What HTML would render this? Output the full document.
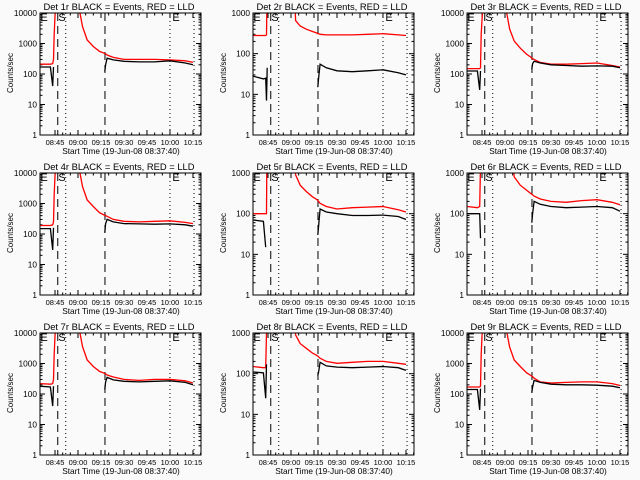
<!DOCTYPE html>
<html><head><meta charset="utf-8"><style>
html,body{margin:0;padding:0;background:#fafafa;}
svg{display:block;font-family:"Liberation Sans",sans-serif;}
</style></head><body>
<svg id="chart" width="640" height="480" viewBox="0 0 640 480"></svg>
<script>
// time in minutes relative to 08:45
const times = [-9.8,-3,-1.5,-1,-0.5,0,1,2,14,16,18,21,25,29,32,32.5,33,34,38,45,55,65,75,85,90];
const tickLabels = ["08:45","09:00","09:15","09:30","09:45","10:00","10:15"];
const tickTimes = [0,15,30,45,60,75,90];
const dashedTimes = [1.8,32.6];
const dottedTimes = [7,75,90.7];
const panelNames = ["Det 1r","Det 2r","Det 3r","Det 4r","Det 5r","Det 6r","Det 7r","Det 8r","Det 9r"];
const panelDecades = [4,3,4,4,3,3,4,3,4];
const N = null;
const red1 = [210,210,220,300,2000,8000,30000,50000,50000,12000,3500,1300,800,550,480,470,460,420,350,300,300,300,290,270,240];
const blk1 = [170,170,40,170,N,N,N,N,N,N,N,N,N,N,N,120,200,330,290,260,250,250,270,230,200];
const red2 = [280,280,280,290,5000,50000,50000,50000,50000,50000,650,480,400,350,320,310,310,300,290,290,290,300,310,290,280];
const blk2 = [28,24,25,7,45,N,N,N,N,N,N,N,N,N,N,15,25,55,45,38,36,38,40,34,30];
const red3 = [150,150,150,160,2000,6000,30000,50000,50000,11000,3000,1200,700,450,350,330,320,300,240,210,210,220,230,190,170];
const blk3 = [125,125,30,125,N,N,N,N,N,N,N,N,N,N,N,140,220,260,230,200,190,180,185,180,160];
const red4 = [190,190,200,250,2000,8000,30000,50000,50000,12000,3500,1300,800,500,420,410,400,380,300,260,250,260,270,240,220];
const blk4 = [150,150,30,160,N,N,N,N,N,N,N,N,N,N,N,110,220,300,250,220,215,210,215,200,180];
const red5 = [100,100,100,100,50000,50000,50000,50000,50000,50000,900,500,350,260,220,210,200,180,150,130,140,145,150,125,110];
const blk5 = [70,65,15,N,N,N,N,N,N,N,N,N,N,N,N,30,50,130,110,100,90,90,92,85,72];
const red6 = [150,140,150,1500,50000,50000,50000,50000,50000,50000,50000,800,500,380,310,300,290,270,230,200,190,210,220,190,165];
const blk6 = [100,100,100,25,N,N,N,N,N,N,N,N,N,N,N,60,100,200,170,150,140,145,150,140,115];
const red7 = [220,210,220,300,2000,8000,30000,50000,50000,12000,3500,1300,800,550,480,470,460,420,360,300,280,300,300,270,230];
const blk7 = [180,170,40,180,N,N,N,N,N,N,N,N,N,N,N,140,250,350,290,260,250,260,270,240,200];
const red8 = [150,140,140,1000,50000,50000,50000,50000,50000,50000,900,550,420,320,280,270,260,240,200,180,190,200,200,180,170];
const blk8 = [110,105,25,170,N,N,N,N,N,N,N,N,N,N,N,90,110,190,155,145,140,145,150,140,120];
const red9 = [170,170,170,180,2000,8000,30000,50000,50000,12000,3500,1300,800,500,400,380,370,330,250,230,240,250,250,220,190];
const blk9 = [140,140,30,150,N,N,N,N,N,N,N,N,N,N,N,110,170,280,240,210,200,200,195,180,160];
const redSeries = [red1,red2,red3,red4,red5,red6,red7,red8,red9];
const blackSeries = [blk1,blk2,blk3,blk4,blk5,blk6,blk7,blk8,blk9];

const NS = "http://www.w3.org/2000/svg";
const svg = document.getElementById('chart');
function mk(tag, attrs, parent){const e=document.createElementNS(NS,tag);for(const k in attrs)e.setAttribute(k,attrs[k]);(parent||svg).appendChild(e);return e;}
const L=40,R=201,T=13,B=135;
function xs(t){return 55+t*1.533;}

for(let p=0;p<9;p++){
  const ox=(p%3)*213 + (p%3===2?1:0), oy=Math.floor(p/3)*160;
  const dec=panelDecades[p];
  const ys=v=>B-Math.log10(v)*(B-T)/dec;
  const g=mk('g',{transform:`translate(${ox},${oy})`});
  
  
  const cid='clip'+p;
  const cp=mk('clipPath',{id:cid},g); mk('rect',{x:L,y:T,width:R-L,height:B-T},cp);
  const title=mk('text',{x:119,y:10,'font-size':'9.4','text-anchor':'middle'},g);
  title.textContent=panelNames[p]+" BLACK = Events, RED = LLD";
  
  
  const yl=mk('text',{x:0,y:0,transform:'translate(13,73) rotate(-90)','font-size':'8','text-anchor':'middle'},g);
  yl.textContent="Counts/sec";
  
  
  const xl=mk('text',{x:121,y:154,'font-size':'8.3','text-anchor':'middle'},g);
  xl.textContent="Start Time (19-Jun-08 08:37:40)";
  
  
  // y ticks
  for(let d=0;d<=dec;d++){
    const y=ys(Math.pow(10,d));
    mk('line',{x1:L,x2:L+5,y1:y,y2:y,stroke:'#000'},g);
    mk('line',{x1:R-5,x2:R,y1:y,y2:y,stroke:'#000'},g);
    const s=String(Math.pow(10,d));
    const tl=mk('text',{x:L-3,y:y+3,'font-size':'8.3','text-anchor':'end'},g);
    tl.textContent=s;
    
    
    if(d<dec) for(let m=2;m<10;m++){const yy=ys(m*Math.pow(10,d));
      mk('line',{x1:L,x2:L+2.5,y1:yy,y2:yy,stroke:'#000'},g);
      mk('line',{x1:R-2.5,x2:R,y1:yy,y2:yy,stroke:'#000'},g);}
  }
  // x ticks
  tickTimes.forEach((t,i)=>{const x=xs(t);
    mk('line',{x1:x,x2:x,y1:B,y2:B-5,stroke:'#000'},g);
    mk('line',{x1:x,x2:x,y1:T,y2:T+5,stroke:'#000'},g);
    const tl=mk('text',{x:x,y:145,'font-size':'7.5','text-anchor':'middle'},g);
    tl.textContent=tickLabels[i];
    
    
    for(let k=1;k<3;k++){const xm=xs(t+k*5); if(xm<R){mk('line',{x1:xm,x2:xm,y1:B,y2:B-2.5,stroke:'#000'},g);mk('line',{x1:xm,x2:xm,y1:T,y2:T+2.5,stroke:'#000'},g);}}
  });
  dashedTimes.forEach(t=>{const x=xs(t);const l=mk('line',{x1:x,x2:x,y1:T,y2:B,stroke:'#000','stroke-dasharray':'8,5'},g);
    });
  dottedTimes.forEach(t=>{const x=xs(t);const l=mk('line',{x1:x,x2:x,y1:T,y2:B,stroke:'#000','stroke-dasharray':'1,3'},g);
    });
  [["E",44],["S",62],["E",176]].forEach(([s,x])=>{const t=mk('text',{x:x,y:21,'text-anchor':'middle','font-size':'11'},g);t.textContent=s;
    });
  function series(vals,color,name){
    let d='',pen=false;
    vals.forEach((v,i)=>{if(v==null){pen=false;return;}const x=xs(times[i]).toFixed(1),y=ys(v).toFixed(1);d+=(pen?'L':'M')+x+' '+y+' ';pen=true;});
    const pth=mk('path',{d:d,fill:'none',stroke:color,'stroke-width':'1.3','clip-path':`url(#${cid})`},g);
    
    
  }
  series(redSeries[p],'#ff0000','lld-series');
  series(blackSeries[p],'#000000','events-series');
  const fr=mk('rect',{x:L,y:T,width:R-L,height:B-T,fill:'none',stroke:'#000'},g);
  
  
}
</script>
</body></html>
